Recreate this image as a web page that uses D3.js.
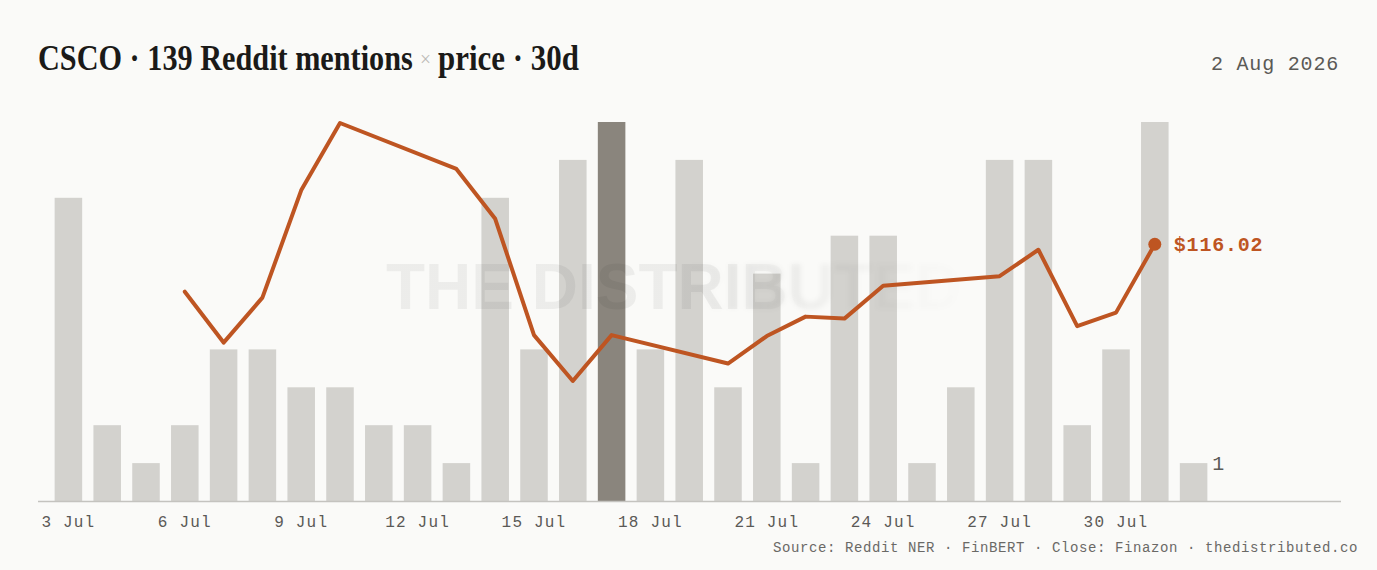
<!DOCTYPE html>
<html>
<head>
<meta charset="utf-8">
<script src="https://cdn.jsdelivr.net/npm/d3@7"></script>
<style>
  html, body { margin: 0; padding: 0; background: #FAFAF8; }
  svg { display: block; }
  .mono { font-family: "Liberation Mono", "DejaVu Sans Mono", monospace; }
  .serif { font-family: "Liberation Serif", "DejaVu Serif", serif; }
</style>
</head>
<body>
<script>
'use strict';

// one row per day, 3 Jul -> 1 Aug
var days = [
  '2026-07-03', '2026-07-04', '2026-07-05', '2026-07-06', '2026-07-07',
  '2026-07-08', '2026-07-09', '2026-07-10', '2026-07-11', '2026-07-12',
  '2026-07-13', '2026-07-14', '2026-07-15', '2026-07-16', '2026-07-17',
  '2026-07-18', '2026-07-19', '2026-07-20', '2026-07-21', '2026-07-22',
  '2026-07-23', '2026-07-24', '2026-07-25', '2026-07-26', '2026-07-27',
  '2026-07-28', '2026-07-29', '2026-07-30', '2026-07-31', '2026-08-01'
];

// reddit mentions per day (sums to 139)
var mentions = [
  8, 2, 1, 2, 4, 4, 3, 3, 2, 2,
  1, 8, 4, 9, 10, 4, 9, 3, 6, 1,
  7, 7, 1, 3, 9, 9, 2, 4, 10, 1
];

// close price, null on holidays / weekends
var closes = [
  null, null, null, 115.07, 114.05, 114.95, 117.10, 118.45, null, null,
  117.53, 116.53, 114.20, 113.28, 114.20, null, null, 113.63, 114.18, 114.57,
  114.53, 115.19, null, null, 115.38, 115.91, 114.38, 114.65, 116.02, null
];

var tickDays = ['2026-07-03', '2026-07-06', '2026-07-09', '2026-07-12', '2026-07-15',
                '2026-07-18', '2026-07-21', '2026-07-24', '2026-07-27', '2026-07-30'];
var tickLabels = ['3 Jul', '6 Jul', '9 Jul', '12 Jul', '15 Jul',
                  '18 Jul', '21 Jul', '24 Jul', '27 Jul', '30 Jul'];

var highlightDay = '2026-07-17';
var titleParts = ['CSCO \u00b7 139 Reddit mentions', '\u00d7', 'price \u00b7 30d'];
var asOf = '2 Aug 2026';
var source = 'Source: Reddit NER \u00b7 FinBERT \u00b7 Close: Finazon \u00b7 thedistributed.co';

var w = 1377;
var h = 570;
var bg = '#FAFAF8';
var barColor = '#D3D2CE';
var hiColor = '#8A857D';
var lineColor = '#BE5522';
var plotL = 38, plotR = 1341, baseY = 501;

var rows = days.map(function(d, i) {
  return {day: d, count: mentions[i], close: closes[i]};
});

var svg = d3.select('body')
            .append('svg')
            .attr('width', w)
            .attr('height', h)
            .style('background-color', bg);

var x = d3.scaleBand()
          .domain(days)
          .range([49, 1213])
          .paddingInner(0.29)
          .paddingOuter(0.145);

var yCount = d3.scaleLinear()
               .domain([0, d3.max(mentions)])
               .range([baseY, 122]);

var yPrice = d3.scaleLinear()
               .domain(d3.extent(closes.filter(function(v) { return v != null; })))
               .range([381, 123]);

// title: the original face is a condensed display serif, so squeeze
// each piece horizontally into the span it takes in the reference
var titleSpots = [
  {x: 38, y: 70, width: 375, size: 35, weight: 700, color: '#1B1A18'},
  {x: 420, y: 66, width: 11, size: 20, weight: 400, color: '#BDBBB7'},
  {x: 438, y: 70, width: 141, size: 35, weight: 700, color: '#1B1A18'}
];
titleSpots.forEach(function(s, i) {
  var t = svg.append('text')
    .attr('class', 'serif')
    .style('font-weight', s.weight)
    .style('font-size', s.size + 'px')
    .style('fill', s.color)
    .text(titleParts[i]);
  var natural = t.node().getComputedTextLength();
  t.attr('transform', 'translate(' + s.x + ',' + s.y + ') scale(' + (s.width / natural) + ',1)');
});

svg.append('text')
  .attr('class', 'mono')
  .attr('x', 1339)
  .attr('y', 70)
  .attr('text-anchor', 'end')
  .style('font-size', '20px')
  .style('letter-spacing', '0.8px')
  .style('fill', '#5A5956')
  .text(asOf);

// bars
svg.selectAll('rect.bar')
  .data(rows)
  .enter()
  .append('rect')
  .attr('class', 'bar')
  .attr('x', function(d) { return x(d.day); })
  .attr('y', function(d) { return yCount(d.count); })
  .attr('width', x.bandwidth())
  .attr('height', function(d) { return baseY - yCount(d.count); })
  .attr('fill', function(d) { return d.day === highlightDay ? hiColor : barColor; });

// watermark: crisp on the left, fading and blurring to the right
var defs = svg.append('defs');
var fade = defs.append('linearGradient')
  .attr('id', 'wmFade')
  .attr('gradientUnits', 'userSpaceOnUse')
  .attr('x1', 385).attr('x2', 975).attr('y1', 0).attr('y2', 0);
fade.append('stop').attr('offset', '0%').attr('stop-color', '#000').attr('stop-opacity', 0.055);
fade.append('stop').attr('offset', '58%').attr('stop-color', '#000').attr('stop-opacity', 0.055);
fade.append('stop').attr('offset', '72%').attr('stop-color', '#000').attr('stop-opacity', 0.0);
var fade2 = defs.append('linearGradient')
  .attr('id', 'wmFade2')
  .attr('gradientUnits', 'userSpaceOnUse')
  .attr('x1', 385).attr('x2', 975).attr('y1', 0).attr('y2', 0);
fade2.append('stop').attr('offset', '50%').attr('stop-color', '#000').attr('stop-opacity', 0.0);
fade2.append('stop').attr('offset', '68%').attr('stop-color', '#000').attr('stop-opacity', 0.05);
fade2.append('stop').attr('offset', '100%').attr('stop-color', '#000').attr('stop-opacity', 0.0);
defs.append('filter')
  .attr('id', 'wmBlur')
  .append('feGaussianBlur')
  .attr('stdDeviation', 2.5);

[['url(#wmFade)', null], ['url(#wmFade2)', 'url(#wmBlur)']].forEach(function(s) {
  svg.append('text')
    .attr('x', 674)
    .attr('y', 309)
    .attr('text-anchor', 'middle')
    .attr('filter', s[1])
    .style('font-family', '"Liberation Sans", Arimo, sans-serif')
    .style('font-weight', 700)
    .style('font-size', '64px')
    .style('fill', s[0])
    .text('THE DISTRIBUTED');
});

// baseline
svg.append('line')
  .attr('x1', plotL)
  .attr('x2', plotR)
  .attr('y1', baseY + 0.5)
  .attr('y2', baseY + 0.5)
  .attr('stroke', '#C4C3BF')
  .attr('stroke-width', 1.5);

// x axis labels
var xAxis = d3.axisBottom(x)
  .tickValues(tickDays)
  .tickSize(0)
  .tickPadding(0)
  .tickFormat(function(d) { return tickLabels[tickDays.indexOf(d)]; });

var gx = svg.append('g')
  .attr('transform', 'translate(0,' + (baseY + 26) + ')')
  .call(xAxis);
gx.select('.domain').remove();
gx.selectAll('text')
  .attr('class', 'mono')
  .attr('dy', 0)
  .style('font-size', '16px')
  .style('letter-spacing', '1.2px')
  .style('fill', '#5A5956');

// price line
var priced = rows.filter(function(d) { return d.close != null; });
var line = d3.line()
  .x(function(d) { return x(d.day) + x.bandwidth() / 2; })
  .y(function(d) { return yPrice(d.close); });

svg.append('path')
  .datum(priced)
  .attr('d', line)
  .attr('fill', 'none')
  .attr('stroke', lineColor)
  .attr('stroke-width', 4)
  .attr('stroke-linejoin', 'round')
  .attr('stroke-linecap', 'round');

var lastPx = priced[priced.length - 1];
svg.append('circle')
  .attr('cx', x(lastPx.day) + x.bandwidth() / 2)
  .attr('cy', yPrice(lastPx.close))
  .attr('r', 6.5)
  .attr('fill', lineColor);

svg.append('text')
  .attr('class', 'mono')
  .attr('x', x(lastPx.day) + x.bandwidth() / 2 + 19)
  .attr('y', yPrice(lastPx.close))
  .attr('dy', '0.36em')
  .style('font-size', '20px')
  .style('letter-spacing', '0.8px')
  .style('font-weight', 700)
  .style('fill', lineColor)
  .text('$' + lastPx.close.toFixed(2));

// value of the last bar
var lastBar = rows[rows.length - 1];
svg.append('text')
  .attr('class', 'mono')
  .attr('x', x(lastBar.day) + x.bandwidth() + 5)
  .attr('y', yCount(lastBar.count))
  .attr('dy', '0.36em')
  .style('font-size', '20px')
  .style('fill', '#5A5956')
  .text(lastBar.count);

svg.append('text')
  .attr('class', 'mono')
  .attr('x', 1358)
  .attr('y', 552)
  .attr('text-anchor', 'end')
  .style('font-size', '14px')
  .style('letter-spacing', '0.6px')
  .style('fill', '#6A6966')
  .text(source);
</script>
</body>
</html>
